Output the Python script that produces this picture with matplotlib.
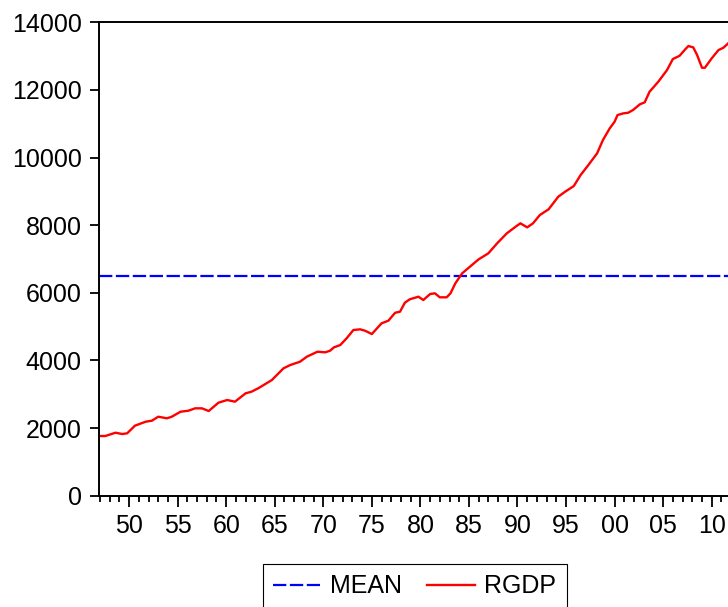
import matplotlib
matplotlib.use("Agg")
import matplotlib.pyplot as plt
from matplotlib.ticker import MultipleLocator, FuncFormatter

plt.rcParams['font.family'] = ['Liberation Sans', 'DejaVu Sans']

years = [1947.0, 1947.55, 1948.6, 1949.3, 1949.8, 1950.6, 1951.7, 1952.35, 1953.0, 1953.9,
         1954.4, 1955.3, 1956.1, 1956.8, 1957.5, 1958.2, 1959.2, 1960.1, 1960.9, 1962.0,
         1962.6, 1963.3, 1964.7, 1965.9, 1966.6, 1967.6, 1968.3, 1969.4, 1970.2, 1970.7,
         1971.1, 1971.75, 1972.4, 1973.1, 1973.8, 1974.3, 1975.0, 1976.0, 1976.7, 1977.4,
         1977.9, 1978.4, 1978.9, 1979.8, 1980.3, 1981.0, 1981.5, 1982.0, 1982.7, 1983.1,
         1983.6, 1984.3, 1985.1, 1986.0, 1987.0, 1987.9, 1988.9, 1989.8, 1990.3, 1991.0,
         1991.6, 1992.3, 1993.2, 1994.2, 1994.9, 1995.8, 1996.5, 1997.3, 1998.2, 1998.8,
         1999.5, 2000.0, 2000.3, 2000.9, 2001.4, 2001.9, 2002.6, 2003.1, 2003.6, 2004.5,
         2005.4, 2006.0, 2006.7, 2007.3, 2007.6, 2008.1, 2008.5, 2009.0, 2009.3, 2010.0,
         2010.7, 2011.2, 2011.7]
rgdp = [1765, 1765, 1863, 1824, 1845, 2070, 2188, 2218, 2336, 2289,
        2336, 2484, 2513, 2584, 2584, 2505, 2750, 2830, 2780, 3028,
        3075, 3176, 3420, 3767, 3865, 3962, 4110, 4258, 4240, 4288,
        4388, 4456, 4654, 4900, 4920, 4879, 4781, 5098, 5175, 5411,
        5441, 5707, 5808, 5885, 5787, 5964, 5985, 5867, 5867, 5985,
        6281, 6576, 6772, 6990, 7168, 7463, 7759, 7954, 8055, 7936,
        8055, 8300, 8469, 8842, 8989, 9158, 9483, 9779, 10125, 10518,
        10864, 11059, 11257, 11307, 11325, 11406, 11574, 11633, 11947, 12242,
        12588, 12913, 13011, 13209, 13298, 13259, 13031, 12656, 12656, 12934,
        13179, 13247, 13377]
mean_value = 6505
x_range = [1946.87, 2011.68]

fig = plt.figure(figsize=(7.28, 6.07), dpi=100)
ax = fig.add_axes([98.7 / 728, (607 - 495.7) / 607, 1 - 98.7 / 728, (495.7 - 22.3) / 607])

ax.plot(x_range, [mean_value, mean_value], color='blue', lw=1.6, dashes=(6.0, 1.6), label='MEAN')
ax.plot(years, rgdp, color='red', lw=1.7, label='RGDP')

ax.set_xlim(x_range)
ax.set_ylim(0, 14000)
ax.set_yticks(range(0, 14001, 2000))
ax.xaxis.set_major_locator(MultipleLocator(5))
ax.xaxis.set_minor_locator(MultipleLocator(1))
ax.xaxis.set_major_formatter(FuncFormatter(lambda v, p: "%02d" % (int(round(v)) % 100)))

ax.spines['right'].set_visible(False)
for s in ['left', 'top', 'bottom']:
    ax.spines[s].set_linewidth(1.4)
ax.tick_params(axis='y', which='major', length=6.3, width=1.3, pad=6, labelsize=18)
ax.tick_params(axis='x', which='major', length=7.9, width=1.3, pad=5.5, labelsize=18)
ax.tick_params(axis='x', which='minor', length=4.3, width=1.3)

leg = fig.legend(loc='upper center', bbox_to_anchor=(414.5 / 728, 1 - 564.3 / 607),
                 ncol=2, fontsize=18, frameon=True, fancybox=False, edgecolor='black',
                 framealpha=1, handlelength=1.9, handletextpad=0.4, columnspacing=1.0,
                 borderpad=0.4, borderaxespad=0)
leg.get_frame().set_linewidth(0.8)

fig.savefig("out.png", dpi=100)
